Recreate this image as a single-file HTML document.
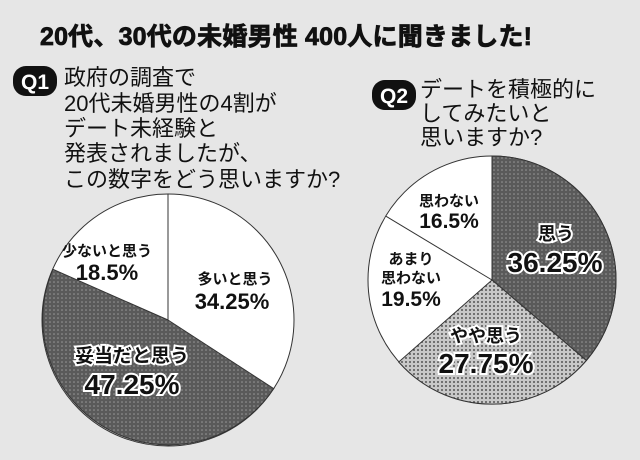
<!DOCTYPE html>
<html><head><meta charset="utf-8"><style>
body{margin:0;background:#e6e6e6;}
svg{display:block;}
text{font-family:"Liberation Sans","Noto Sans CJK JP",sans-serif;}
</style></head><body>
<svg width="640" height="460" viewBox="0 0 640 460" xmlns="http://www.w3.org/2000/svg">
<defs>
<pattern id="dk" width="4" height="4" patternUnits="userSpaceOnUse"><rect width="4" height="4" fill="#5a5a5a"/><circle cx="2" cy="2" r="0.8" fill="#9a9a9a"/></pattern>
<pattern id="lt" width="4" height="4" patternUnits="userSpaceOnUse"><rect width="4" height="4" fill="#c8c8c8"/><circle cx="2" cy="2" r="0.9" fill="#333"/></pattern>
</defs>
<rect width="640" height="460" fill="#e6e6e6"/>
<text x="40" y="45" font-size="25" font-weight="bold" fill="#111" stroke="#111" stroke-width="0.8" textLength="492">20代、30代の未婚男性 400人に聞きました!</text>
<rect x="13" y="66" width="44" height="30" rx="13" fill="#111"/>
<text x="35" y="89" font-size="21" font-weight="bold" fill="#fff" text-anchor="middle">Q1</text>
<g font-size="22" fill="#111">
<text x="64" y="85">政府の調査で</text>
<text x="64" y="111">20代未婚男性の4割が</text>
<text x="64" y="136">デート未経験と</text>
<text x="64" y="161">発表されましたが、</text>
<text x="64" y="187">この数字をどう思いますか?</text>
</g>
<rect x="372" y="80" width="44" height="30" rx="13" fill="#111"/>
<text x="394" y="103" font-size="21" font-weight="bold" fill="#fff" text-anchor="middle">Q2</text>
<g font-size="22" fill="#111">
<text x="420" y="97">デートを積極的に</text>
<text x="420" y="121">してみたいと</text>
<text x="420" y="145">思いますか?</text>
</g>
<g stroke="#333" stroke-width="1">
<circle cx="168" cy="320" r="126" fill="#fff"/>
<path d="M168,320 L273.7,388.6 A126,126 0 0 1 52.9,269.3 Z" fill="url(#dk)"/>
<line x1="168" y1="320" x2="168" y2="194"/>
</g>
<g text-anchor="middle" fill="#111" font-weight="bold">
<text x="107" y="256" font-size="15">少ないと思う</text>
<text x="107" y="280" font-size="22">18.5%</text>
<text x="235" y="284" font-size="15">多いと思う</text>
<text x="232" y="309" font-size="22">34.25%</text>
<g stroke="#fff" stroke-width="4" paint-order="stroke">
<text x="132" y="362" font-size="19">妥当だと思う</text>
<text x="132" y="394" font-size="28">47.25%</text>
</g>
</g>
<g stroke="#333" stroke-width="1">
<circle cx="492" cy="280" r="124" fill="#fff"/>
<path d="M492,280 L492,156 A124,124 0 0 1 586.3,360.5 Z" fill="url(#dk)"/>
<path d="M492,280 L586.3,360.5 A124,124 0 0 1 398.7,362.0 Z" fill="url(#lt)"/>
<line x1="492" y1="280" x2="385.7" y2="216.1"/>
</g>
<g text-anchor="middle" fill="#111" font-weight="bold">
<text x="449" y="206" font-size="15">思わない</text>
<text x="449" y="228" font-size="21">16.5%</text>
<text x="411" y="264" font-size="15">あまり</text>
<text x="411" y="283" font-size="15">思わない</text>
<text x="411" y="306" font-size="21">19.5%</text>
<g stroke="#fff" stroke-width="4" paint-order="stroke">
<text x="556" y="240" font-size="18">思う</text>
<text x="555" y="272" font-size="28">36.25%</text>
<text x="486" y="342" font-size="18">やや思う</text>
<text x="486" y="373" font-size="28">27.75%</text>
</g>
</g>
</svg>
</body></html>
